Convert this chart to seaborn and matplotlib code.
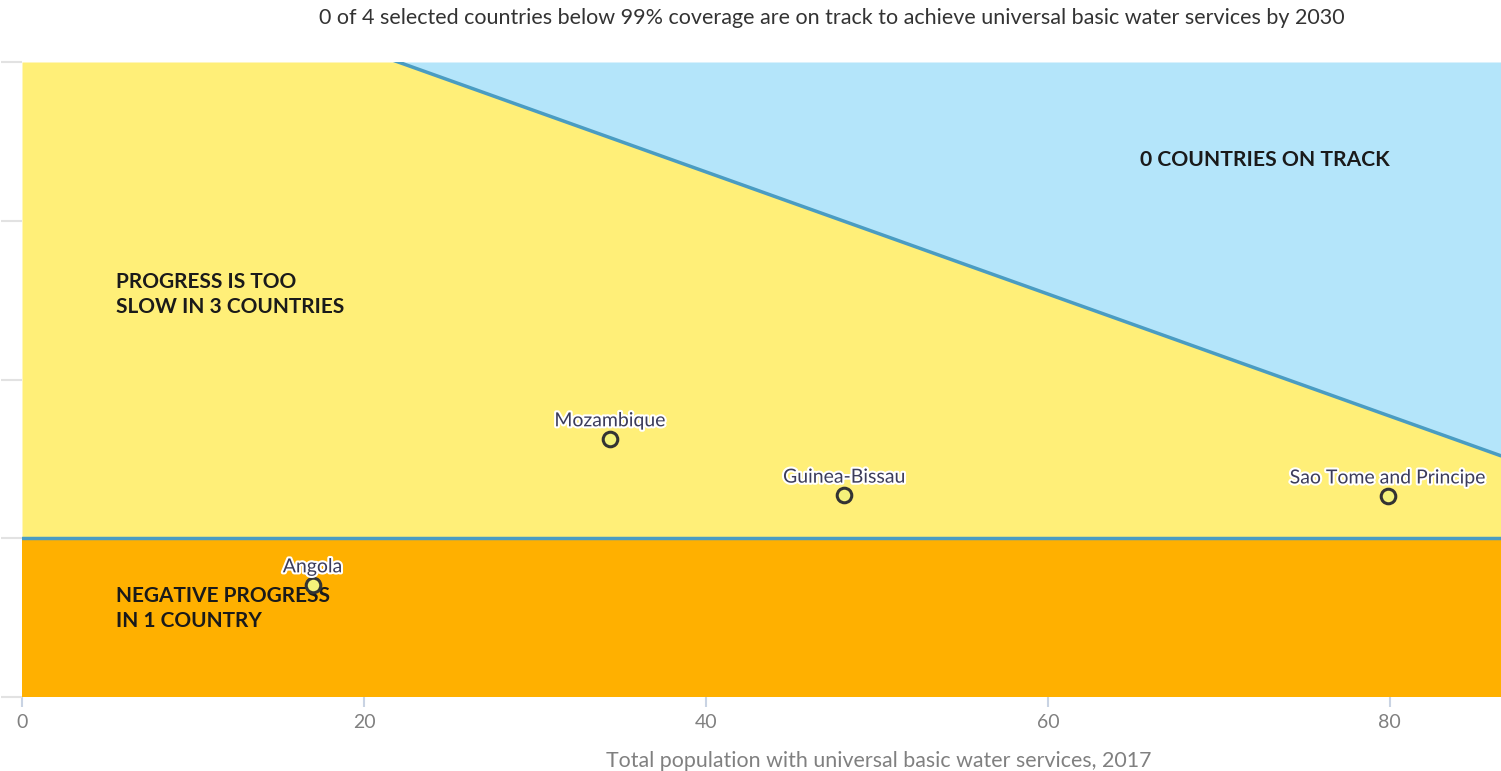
import numpy as np
import pandas as pd
import seaborn as sns
import matplotlib.pyplot as plt
import matplotlib.patheffects as pe

# data
countries = ["Mozambique", "Guinea-Bissau", "Sao Tome and Principe", "Angola"]
coverage_2017 = [34.4, 48.1, 79.9, 17.0]
annual_change = [1.25, 0.54, 0.53, -0.59]
x_ticks = [0, 20, 40, 60, 80]
y_ticks = [-2, 0, 2, 4, 6]
x_max = 86.5
target = 100
years_left = 13

sns.set_theme(style="white")
plt.rcParams['font.family'] = ['Lato', 'DejaVu Sans']

df = pd.DataFrame({"country": countries, "x": coverage_2017, "y": annual_change})

fig = plt.figure(figsize=(15.01, 7.71), dpi=100)
ax = fig.add_axes([22 / 1501, 1 - 697 / 771, 1 - 22 / 1501, (697 - 62) / 771])

xs = np.linspace(0, x_max, 200)
needed = (target - xs) / years_left
ymin, ymax = y_ticks[0], y_ticks[-1]

ax.fill_between(xs, ymin, 0, color="#FFB000", lw=0, zorder=1)
ax.fill_between(xs, 0, np.minimum(needed, ymax), color="#FFEF78", lw=0, zorder=1)
ax.fill_between(xs, np.minimum(needed, ymax), ymax, color="#B4E5FA", lw=0, zorder=1)

ax.axhline(0, color="#4A9CC2", lw=2.5, zorder=2)
line_df = pd.DataFrame({"x": xs, "y": needed})
sns.lineplot(data=line_df, x="x", y="y", color="#4A9CC2", lw=2.5, ax=ax, zorder=2)

sns.scatterplot(data=df, x="x", y="y", s=110, color="#F4F27A", edgecolor="#333333",
                linewidth=2.2, ax=ax, zorder=4, legend=False)

for _, r in df.iterrows():
    ax.annotate(r["country"], (r["x"], r["y"]), xytext=(0, 7), textcoords="offset points",
                ha="center", va="bottom", fontsize=14, color="#3C3C5A", zorder=5,
                path_effects=[pe.withStroke(linewidth=3, foreground="white")])

ax.text(5.5, 3.07, "PROGRESS IS TOO\nSLOW IN 3 COUNTRIES", fontsize=15, fontweight="bold",
        color="#1A1A1A", va="center", ha="left", linespacing=1.32, zorder=3)
ax.text(5.5, -0.89, "NEGATIVE PROGRESS\nIN 1 COUNTRY", fontsize=15, fontweight="bold",
        color="#1A1A1A", va="center", ha="left", linespacing=1.32, zorder=3)
ax.text(72.7, 4.77, "0 COUNTRIES ON TRACK", fontsize=15.2, fontweight="bold",
        color="#1A1A1A", va="center", ha="center", zorder=3)

ax.set_xlim(0, x_max)
ax.set_ylim(ymin, ymax)
ax.set_xticks(x_ticks)
ax.set_yticks(y_ticks)
ax.set_yticklabels([])
ax.tick_params(axis="x", colors="#C9D3E3", labelcolor="#808080", labelsize=14,
               length=7, width=1.5, direction="out", bottom=True, pad=5)
ax.tick_params(axis="y", colors="#E2E2E2", length=15, width=1.5, left=True)
for s in ax.spines.values():
    s.set_visible(False)
ax.set_xlabel("Total population with universal basic water services, 2017",
              fontsize=15.4, color="#808080")
ax.xaxis.set_label_coords(0.579, -0.085)
ax.set_ylabel("")

fig.text(0.554, 0.977, "0 of 4 selected countries below 99% coverage are on track to achieve "
         "universal basic water services by 2030", ha="center", va="center",
         fontsize=15.5, color="#333333")

fig.savefig("out.png", dpi=100)
